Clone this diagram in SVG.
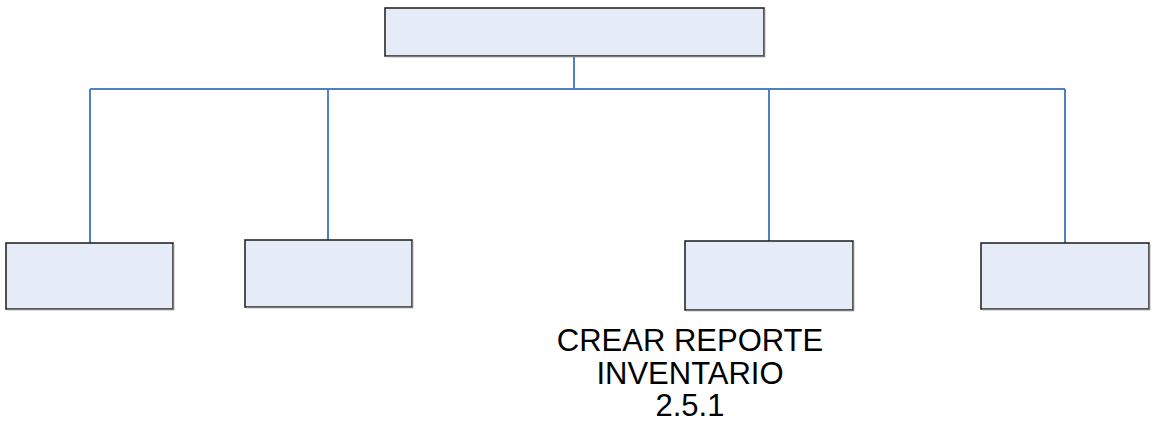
<svg xmlns="http://www.w3.org/2000/svg" width="1155" height="428" viewBox="0 0 1155 428">
<style>
.box{fill:#e6ecf7;stroke:#1a1a1a;stroke-width:1.5}
.shadow{fill:none;stroke:#7a7a7a;stroke-width:1.5}
.conn{fill:none;stroke:#4f7fc4;stroke-width:2}
.lbl{font-family:"Liberation Sans",Arial,sans-serif;font-size:31px;fill:#000;text-anchor:middle}
</style>
<rect width="1155" height="428" fill="#fff"/>
<g id="connectors">
<path class="conn" d="M574,56 V89 M90,89 H1065 M90,89 V243 M328,89 V240 M769,89 V241 M1065,89 V243"/>
</g>
<g id="root">
<rect class="box" x="385" y="8" width="379" height="48"/>
<path class="shadow" d="M386,56.5 H764.5 V9"/>
</g>
<g id="n1">
<rect class="box" x="6" y="243" width="167" height="66"/>
<path class="shadow" d="M7,309.5 H173.5 V244"/>
</g>
<g id="n2">
<rect class="box" x="245" y="240" width="167" height="67"/>
<path class="shadow" d="M246,307.5 H412.5 V241"/>
</g>
<g id="n3">
<rect class="box" x="685" y="241" width="168" height="69"/>
<path class="shadow" d="M686,310.5 H853.5 V242"/>
</g>
<g id="n4">
<rect class="box" x="981" y="243" width="168" height="66"/>
<path class="shadow" d="M982,309.5 H1149.5 V244"/>
</g>
<g id="label">
<text class="lbl" x="690" y="351">CREAR REPORTE</text>
<text class="lbl" x="690" y="384">INVENTARIO</text>
<text class="lbl" x="690" y="416">2.5.1</text>
</g>
</svg>
